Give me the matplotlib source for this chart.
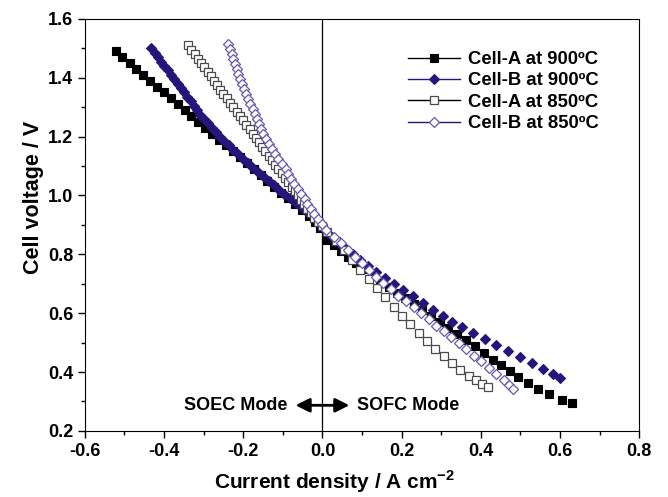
import matplotlib
matplotlib.use("Agg")
import matplotlib.pyplot as plt
from matplotlib.lines import Line2D
from matplotlib.ticker import MultipleLocator

plt.rcParams["font.family"] = ["Liberation Sans", "DejaVu Sans"]
plt.rcParams["font.weight"] = "bold"
plt.rcParams["axes.unicode_minus"] = False
plt.rcParams["mathtext.fontset"] = "custom"
plt.rcParams["mathtext.rm"] = "Liberation Sans:bold"
plt.rcParams["mathtext.bf"] = "Liberation Sans:bold"

# Cell-A at 900 C (filled squares)
a900_j = [-0.522, -0.505, -0.487, -0.470, -0.452, -0.435, -0.418, -0.400, -0.383, -0.365,
          -0.348, -0.331, -0.313, -0.296, -0.278, -0.261, -0.243, -0.226, -0.209, -0.191,
          -0.174, -0.156, -0.139, -0.122, -0.104, -0.087, -0.070, -0.052, -0.035, -0.018,
          -0.005, 0.010, 0.028, 0.046, 0.065, 0.085, 0.105, 0.125, 0.146, 0.167,
          0.188, 0.209, 0.230, 0.252, 0.274, 0.296, 0.318, 0.340, 0.362, 0.384,
          0.407, 0.431, 0.452, 0.473, 0.495, 0.519, 0.545, 0.572, 0.604, 0.629]
a900_v = [1.49, 1.47, 1.45, 1.43, 1.41, 1.39, 1.37, 1.35, 1.33, 1.31,
          1.29, 1.27, 1.25, 1.23, 1.21, 1.19, 1.17, 1.15, 1.13, 1.11,
          1.09, 1.07, 1.05, 1.03, 1.01, 0.99, 0.97, 0.95, 0.93, 0.91,
          0.89, 0.85, 0.83, 0.81, 0.79, 0.77, 0.75, 0.73, 0.71, 0.69,
          0.67, 0.65, 0.63, 0.61, 0.59, 0.57, 0.55, 0.53, 0.51, 0.49,
          0.465, 0.442, 0.424, 0.405, 0.384, 0.363, 0.343, 0.324, 0.305, 0.294]

# Cell-B at 900 C (filled diamonds)
b900_j = [-0.432, -0.424, -0.415, -0.407, -0.399, -0.390, -0.382, -0.374, -0.366, -0.357,
          -0.349, -0.341, -0.333, -0.325, -0.316, -0.308, -0.300, -0.290, -0.279, -0.269,
          -0.258, -0.248, -0.237, -0.227, -0.214, -0.201, -0.188, -0.175, -0.162, -0.149,
          -0.136, -0.123, -0.110, -0.097, -0.083, -0.068, -0.054, -0.039, -0.025, -0.012,
          0.000, 0.010, 0.025, 0.041, 0.058, 0.076, 0.095, 0.115, 0.136, 0.158,
          0.181, 0.204, 0.229, 0.254, 0.279, 0.304, 0.328, 0.353, 0.381, 0.410,
          0.439, 0.469, 0.498, 0.528, 0.557, 0.582, 0.600]
b900_v = [1.500, 1.485, 1.470, 1.455, 1.440, 1.425, 1.410, 1.395, 1.380, 1.365,
          1.350, 1.335, 1.320, 1.305, 1.290, 1.275, 1.260, 1.245, 1.230, 1.215,
          1.200, 1.185, 1.170, 1.155, 1.140, 1.125, 1.110, 1.095, 1.080, 1.065,
          1.050, 1.035, 1.020, 1.005, 0.990, 0.975, 0.960, 0.945, 0.930, 0.915,
          0.900, 0.880, 0.860, 0.840, 0.820, 0.800, 0.780, 0.760, 0.740, 0.720,
          0.700, 0.680, 0.657, 0.634, 0.611, 0.589, 0.570, 0.552, 0.532, 0.513,
          0.492, 0.473, 0.452, 0.430, 0.411, 0.395, 0.380]

# Cell-A at 850 C (open squares)
a850_j = [-0.339, -0.331, -0.323, -0.315, -0.307, -0.298, -0.290, -0.282, -0.274, -0.266,
          -0.258, -0.250, -0.241, -0.233, -0.225, -0.217, -0.209, -0.201, -0.193, -0.184,
          -0.176, -0.168, -0.160, -0.152, -0.144, -0.136, -0.127, -0.119, -0.111, -0.103,
          -0.095, -0.087, -0.078, -0.070, -0.062, -0.054, -0.046, -0.038, -0.030, -0.021,
          -0.012, -0.002, 0.012, 0.033, 0.054, 0.075, 0.096, 0.117, 0.138, 0.159,
          0.180, 0.201, 0.222, 0.243, 0.264, 0.285, 0.306, 0.327, 0.348, 0.369,
          0.388, 0.403, 0.418]
a850_v = [1.510, 1.495, 1.480, 1.465, 1.450, 1.435, 1.420, 1.405, 1.390, 1.375,
          1.360, 1.345, 1.330, 1.315, 1.300, 1.285, 1.270, 1.255, 1.240, 1.225,
          1.210, 1.195, 1.180, 1.165, 1.150, 1.135, 1.120, 1.105, 1.090, 1.075,
          1.060, 1.045, 1.030, 1.015, 1.000, 0.985, 0.970, 0.955, 0.940, 0.925,
          0.910, 0.895, 0.877, 0.845, 0.814, 0.782, 0.748, 0.716, 0.687, 0.656,
          0.622, 0.591, 0.562, 0.534, 0.506, 0.479, 0.454, 0.430, 0.407, 0.388,
          0.372, 0.360, 0.349]

# Cell-B at 850 C (open diamonds)
b850_j = [-0.238, -0.234, -0.229, -0.225, -0.220, -0.216, -0.212, -0.208, -0.203, -0.198,
          -0.193, -0.188, -0.182, -0.176, -0.171, -0.166, -0.161, -0.155, -0.149, -0.142,
          -0.135, -0.128, -0.121, -0.113, -0.103, -0.093, -0.086, -0.080, -0.072, -0.063,
          -0.054, -0.045, -0.038, -0.030, -0.022, -0.012, -0.002, 0.010, 0.028, 0.046,
          0.064, 0.082, 0.100, 0.118, 0.136, 0.154, 0.173, 0.192, 0.211, 0.230,
          0.249, 0.268, 0.287, 0.306, 0.325, 0.344, 0.363, 0.382, 0.401, 0.420,
          0.439, 0.459, 0.472, 0.482]
b850_v = [1.515, 1.498, 1.481, 1.464, 1.447, 1.430, 1.413, 1.396, 1.379, 1.362,
          1.345, 1.328, 1.311, 1.294, 1.277, 1.260, 1.243, 1.226, 1.209, 1.192,
          1.175, 1.158, 1.141, 1.124, 1.107, 1.090, 1.073, 1.056, 1.039, 1.022,
          1.005, 0.988, 0.971, 0.954, 0.937, 0.920, 0.903, 0.882, 0.860, 0.837,
          0.814, 0.792, 0.769, 0.746, 0.724, 0.702, 0.681, 0.660, 0.640, 0.620,
          0.599, 0.579, 0.558, 0.538, 0.518, 0.497, 0.477, 0.456, 0.436, 0.415,
          0.395, 0.372, 0.357, 0.344]

labels = ["Cell-A at 900\u00baC", "Cell-B at 900\u00baC",
          "Cell-A at 850\u00baC", "Cell-B at 850\u00baC"]

NAVY = "#24167a"
NAVY_OPEN = "#6558b0"
GREY_EDGE = "#4a4a4a"


def main():
    fig = plt.figure(figsize=(6.68, 4.97), dpi=100)
    ax = fig.add_axes([0.127, 0.133, 0.830, 0.829])

    ax.axvline(0.0, color="black", lw=0.9, zorder=1)

    styles = [
        dict(marker="s", color="black", ms=6, mec="black", mfc="black", mew=0.8),
        dict(marker="D", color=NAVY, ms=5.2, mec=NAVY, mfc=NAVY, mew=0.8),
        dict(marker="s", color="black", ms=6, mec=GREY_EDGE, mfc="white", mew=0.9),
        dict(marker="D", color=NAVY_OPEN, ms=5.5, mec=NAVY_OPEN, mfc="white", mew=0.9),
    ]
    series = [(a900_j, a900_v), (b900_j, b900_v), (a850_j, a850_v), (b850_j, b850_v)]

    handles = []
    for (j, v), st, lab, z in zip(series, styles, labels, [3, 4, 5, 6]):
        ax.plot(j, v, linestyle="none", zorder=z, **st)
        line_color = "black" if lab.startswith("Cell-A") else NAVY
        handles.append(Line2D([], [], linestyle="-", lw=1.0, color=line_color,
                              marker=st["marker"], ms=st["ms"], mec=st["mec"],
                              mfc=st["mfc"], mew=st["mew"]))

    # mode arrows
    arrow = dict(arrowstyle="-|>,head_length=0.6,head_width=0.3", color="black",
                 lw=2.0, mutation_scale=14, shrinkA=0, shrinkB=0)
    ax.annotate("", xy=(-0.068, 0.287), xytext=(0.0, 0.287), arrowprops=arrow)
    ax.annotate("", xy=(0.068, 0.287), xytext=(0.0, 0.287), arrowprops=arrow)
    ax.text(-0.088, 0.287, "SOEC Mode", ha="right", va="center", fontsize=13, fontweight="bold")
    ax.text(0.086, 0.287, "SOFC Mode", ha="left", va="center", fontsize=13, fontweight="bold")

    ax.set_xlim(-0.6, 0.8)
    ax.set_ylim(0.2, 1.6)
    ax.xaxis.set_major_locator(MultipleLocator(0.2))
    ax.xaxis.set_minor_locator(MultipleLocator(0.1))
    ax.yaxis.set_major_locator(MultipleLocator(0.2))
    ax.yaxis.set_minor_locator(MultipleLocator(0.1))
    ax.tick_params(which="both", direction="out", top=False, right=False, labelsize=13)
    ax.tick_params(which="major", length=5, width=1)
    ax.tick_params(which="minor", length=3, width=1)
    for lab in ax.get_xticklabels() + ax.get_yticklabels():
        lab.set_fontweight("bold")

    ax.set_xlabel("Current density / A cm$^{-2}$", fontsize=15, fontweight="bold")
    ax.xaxis.set_label_coords(0.451, -0.09)
    ax.set_ylabel("Cell voltage / V", fontsize=15.5, fontweight="bold")
    ax.yaxis.set_label_coords(-0.073, 0.568)

    ax.legend(handles, labels, loc="upper left", bbox_to_anchor=(0.583, 0.922),
              borderaxespad=0, borderpad=0, frameon=False, fontsize=13.3,
              handlelength=2.8, labelspacing=0.24, handletextpad=0.45, numpoints=1)

    fig.savefig("out.png", dpi=100)
    plt.close(fig)


if __name__ == "__main__":
    main()
